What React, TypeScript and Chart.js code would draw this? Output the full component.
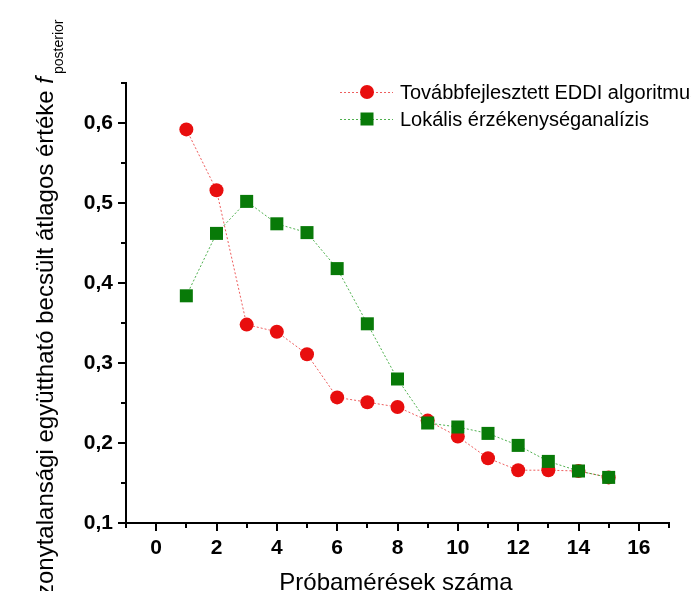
import React, { useEffect, useRef } from "react";
import { Chart, registerables } from "chart.js";

Chart.register(...registerables);

const probes = [1, 2, 3, 4, 5, 6, 7, 8, 9, 10, 11, 12, 13, 14, 15];
const eddiValues = [0.592, 0.516, 0.348, 0.339, 0.311, 0.257, 0.251, 0.245, 0.228, 0.208, 0.181, 0.166, 0.166, 0.165, 0.157];
const localValues = [0.384, 0.462, 0.502, 0.474, 0.463, 0.418, 0.349, 0.280, 0.225, 0.220, 0.212, 0.197, 0.177, 0.165, 0.157];
const xTickValues = [0, 2, 4, 6, 8, 10, 12, 14, 16];
const yTickValues = [0.1, 0.2, 0.3, 0.4, 0.5, 0.6];
const seriesNames = ["Továbbfejlesztett EDDI algoritmus", "Lokális érzékenységanalízis"];
const xTitle = "Próbamérések száma";
const yTitleMain = "A bizonytalansági együttható becsült átlagos értéke ";
const yTitleF = "f";
const yTitleSub = "posterior";

const RED = "rgb(232,14,14)";
const RED_LINE = "rgba(232,40,40,0.75)";
const GREEN = "rgb(8,122,8)";
const GREEN_LINE = "rgba(20,150,20,0.75)";
const FONT = "'Liberation Sans', Arial, sans-serif";

export default function App() {
  const ref = useRef<HTMLCanvasElement | null>(null);

  useEffect(() => {
    if (!ref.current) return;

    const decor = {
      id: "decor",
      afterDraw(chart: any) {
        const ctx = chart.ctx as CanvasRenderingContext2D;
        const xs = chart.scales.x;
        const ys = chart.scales.y;
        const area = chart.chartArea;
        ctx.save();
        ctx.strokeStyle = "#000";
        ctx.lineWidth = 2;
        for (let v = -1; v <= 17; v++) {
          const px = Math.round(xs.getPixelForValue(v));
          const len = v % 2 === 0 ? 8 : 5;
          ctx.beginPath();
          ctx.moveTo(px, area.bottom);
          ctx.lineTo(px, area.bottom + len);
          ctx.stroke();
        }
        for (let i = 0; i <= 11; i++) {
          const v = 0.1 + i * 0.05;
          const py = Math.round(ys.getPixelForValue(v));
          const len = i % 2 === 0 ? 8 : 5;
          ctx.beginPath();
          ctx.moveTo(area.left, py);
          ctx.lineTo(area.left - len, py);
          ctx.stroke();
        }
        ctx.fillStyle = "#000";
        ctx.font = `24px ${FONT}`;
        ctx.textAlign = "center";
        ctx.textBaseline = "alphabetic";
        ctx.fillText(xTitle, 396, 590);
        ctx.save();
        ctx.translate(53, 76);
        ctx.rotate(-Math.PI / 2);
        ctx.font = `italic 24px ${FONT}`;
        const fW = ctx.measureText(yTitleF).width;
        ctx.textAlign = "left";
        ctx.fillText(yTitleF, -fW - 1, 0);
        ctx.font = `24px ${FONT}`;
        ctx.textAlign = "right";
        ctx.fillText(yTitleMain, -fW - 1, 0);
        ctx.font = `14px ${FONT}`;
        ctx.textAlign = "left";
        ctx.fillText(yTitleSub, 2, 10);
        ctx.restore();
        const items = [
          { y: 92, color: RED, line: RED_LINE, style: "circle" },
          { y: 119, color: GREEN, line: GREEN_LINE, style: "rect" },
        ];
        items.forEach((it, i) => {
          ctx.save();
          ctx.strokeStyle = it.line;
          ctx.lineWidth = 1;
          ctx.setLineDash([2, 2]);
          ctx.beginPath();
          ctx.moveTo(340, it.y + 0.5);
          ctx.lineTo(393, it.y + 0.5);
          ctx.stroke();
          ctx.restore();
          ctx.fillStyle = it.color;
          if (it.style === "circle") {
            ctx.beginPath();
            ctx.arc(367, it.y, 7, 0, Math.PI * 2);
            ctx.fill();
          } else {
            ctx.fillRect(367 - 6.5, it.y - 6.5, 13, 13);
          }
          ctx.fillStyle = "#000";
          ctx.font = `20px ${FONT}`;
          ctx.textAlign = "left";
          ctx.textBaseline = "middle";
          ctx.fillText(seriesNames[i], 400, it.y + 1);
        });
        ctx.restore();
      },
    };

    const chart = new Chart(ref.current, {
      type: "line",
      data: {
        labels: probes,
        datasets: [
          {
            label: seriesNames[0],
            data: probes.map((p, i) => ({ x: p, y: eddiValues[i] })),
            borderColor: RED_LINE,
            borderWidth: 1,
            borderDash: [2, 2],
            pointStyle: "circle",
            pointRadius: 7,
            pointBackgroundColor: RED,
            pointBorderColor: RED,
            pointBorderWidth: 0,
            order: 1,
          },
          {
            label: seriesNames[1],
            data: probes.map((p, i) => ({ x: p, y: localValues[i] })),
            borderColor: GREEN_LINE,
            borderWidth: 1,
            borderDash: [2, 2],
            pointStyle: "rect",
            pointRadius: 9.2,
            pointBackgroundColor: GREEN,
            pointBorderColor: GREEN,
            pointBorderWidth: 0,
            order: 0,
          },
        ],
      },
      options: {
        responsive: false,
        animation: false,
        layout: { padding: { top: 83, right: 22, left: 0, bottom: 0 } },
        plugins: { legend: { display: false }, tooltip: { enabled: false } },
        scales: {
          x: {
            type: "linear",
            min: -1,
            max: 17,
            afterBuildTicks: (s: any) => {
              s.ticks = xTickValues.map((v) => ({ value: v }));
            },
            afterFit: (s: any) => {
              s.height = 68;
            },
            grid: { display: false },
            border: { display: true, color: "#000", width: 2 },
            ticks: {
              color: "#000",
              font: { family: FONT, size: 21, weight: "bold" },
              padding: 5,
              maxRotation: 0,
              autoSkip: false,
              callback: (v: any) => String(v),
            },
          },
          y: {
            type: "linear",
            min: 0.1,
            max: 0.65,
            afterBuildTicks: (s: any) => {
              s.ticks = yTickValues.map((v) => ({ value: v }));
            },
            afterFit: (s: any) => {
              s.width = 126;
            },
            grid: { display: false },
            border: { display: true, color: "#000", width: 2 },
            ticks: {
              color: "#000",
              font: { family: FONT, size: 21, weight: "bold" },
              padding: 5,
              autoSkip: false,
              callback: (v: any) => Number(v).toFixed(1).replace(".", ","),
            },
          },
        },
      },
      plugins: [decor],
    });
    return () => chart.destroy();
  }, []);

  return (
    <div style={{ position: "absolute", left: 0, top: 0, width: 691, height: 591, background: "#fff" }}>
      <canvas ref={ref} width={691} height={591} style={{ width: 691, height: 591, display: "block" }} />
    </div>
  );
}
